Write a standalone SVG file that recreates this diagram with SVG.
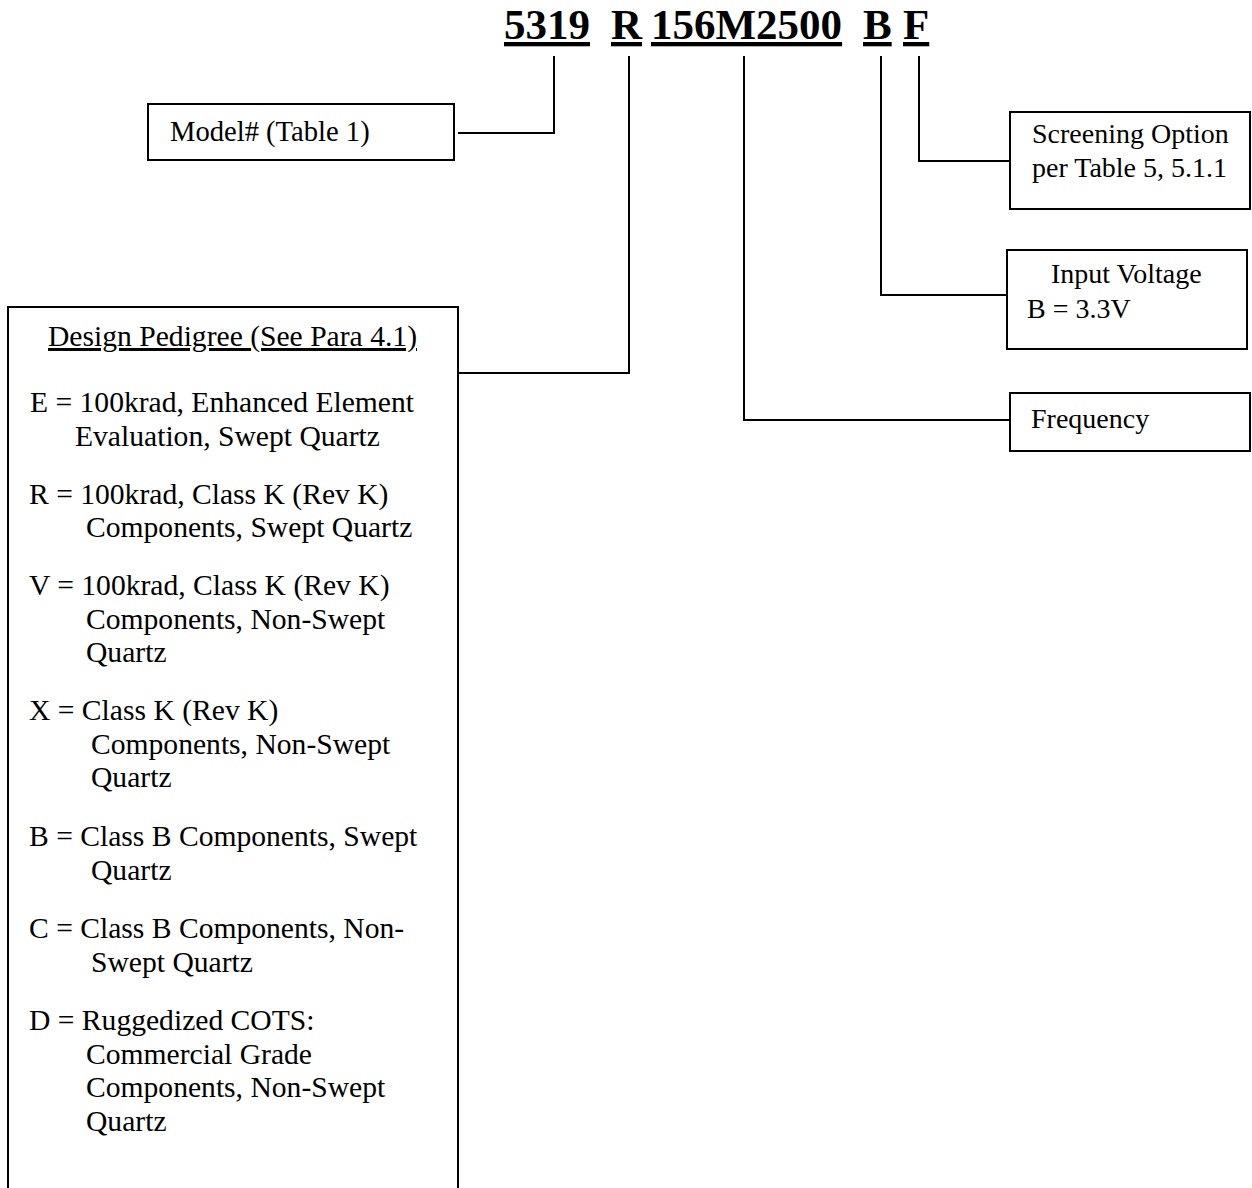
<svg xmlns="http://www.w3.org/2000/svg" width="1252" height="1188" viewBox="0 0 1252 1188">
<style>
.bg{fill:#fff}
.box{fill:#fff;stroke:#000;stroke-width:2}
.ln{fill:none;stroke:#000;stroke-width:2}
.t{font-family:"Liberation Serif","Times New Roman",serif;font-size:28px;fill:#000}
.m{font-size:28.6px}
.b{font-size:29.6px}
.h{font-family:"Liberation Serif","Times New Roman",serif;font-size:43px;font-weight:bold;fill:#000;text-decoration:underline}
.u{text-decoration:underline}
</style>
<rect class="bg" x="0" y="0" width="1252" height="1188"/>
<g id="title">
<text class="h" x="504" y="39">5319</text>
<text class="h" x="611" y="39">R</text>
<text class="h" x="651" y="39">156M2500</text>
<text class="h" x="863" y="39">B</text>
<text class="h" x="903" y="39">F</text>
</g>
<g id="connectors">
<polyline class="ln" points="554,56 554,133 458,133"/>
<polyline class="ln" points="629,56 629,373 458,373"/>
<polyline class="ln" points="744,56 744,420 1010,420"/>
<polyline class="ln" points="881,56 881,295 1007,295"/>
<polyline class="ln" points="919,56 919,161 1010,161"/>
</g>
<g id="model">
<rect class="box" x="148" y="104" width="306" height="56"/>
<text class="t m" x="170" y="141">Model# (Table 1)</text>
</g>
<g id="screening">
<rect class="box" x="1010" y="112" width="240" height="97"/>
<text class="t" x="1032" y="143">Screening Option</text>
<text class="t" x="1032" y="177">per Table 5, 5.1.1</text>
</g>
<g id="voltage">
<rect class="box" x="1007" y="250" width="240" height="99"/>
<text class="t" x="1051" y="283">Input Voltage</text>
<text class="t" x="1027" y="318">B = 3.3V</text>
</g>
<g id="frequency">
<rect class="box" x="1010" y="393" width="240" height="58"/>
<text class="t" x="1031" y="428">Frequency</text>
</g>
<g id="pedigree">
<rect class="box" x="8" y="307" width="450" height="900"/>
<text class="t b u" x="48" y="346">Design Pedigree (See Para 4.1)</text>
<text class="t b" x="30" y="412">E = 100krad, Enhanced Element</text>
<text class="t b" x="75" y="446">Evaluation, Swept Quartz</text>
<text class="t b" x="29" y="504">R = 100krad, Class K (Rev K)</text>
<text class="t b" x="86" y="537">Components, Swept Quartz</text>
<text class="t b" x="29" y="595">V = 100krad, Class K (Rev K)</text>
<text class="t b" x="86" y="629">Components, Non-Swept</text>
<text class="t b" x="86" y="662">Quartz</text>
<text class="t b" x="29" y="720">X = Class K (Rev K)</text>
<text class="t b" x="91" y="754">Components, Non-Swept</text>
<text class="t b" x="91" y="787">Quartz</text>
<text class="t b" x="29" y="846">B = Class B Components, Swept</text>
<text class="t b" x="91" y="880">Quartz</text>
<text class="t b" x="29" y="938">C = Class B Components, Non-</text>
<text class="t b" x="91" y="972">Swept Quartz</text>
<text class="t b" x="29" y="1030">D = Ruggedized COTS:</text>
<text class="t b" x="86" y="1064">Commercial Grade</text>
<text class="t b" x="86" y="1097">Components, Non-Swept</text>
<text class="t b" x="86" y="1131">Quartz</text>
</g>
</svg>
